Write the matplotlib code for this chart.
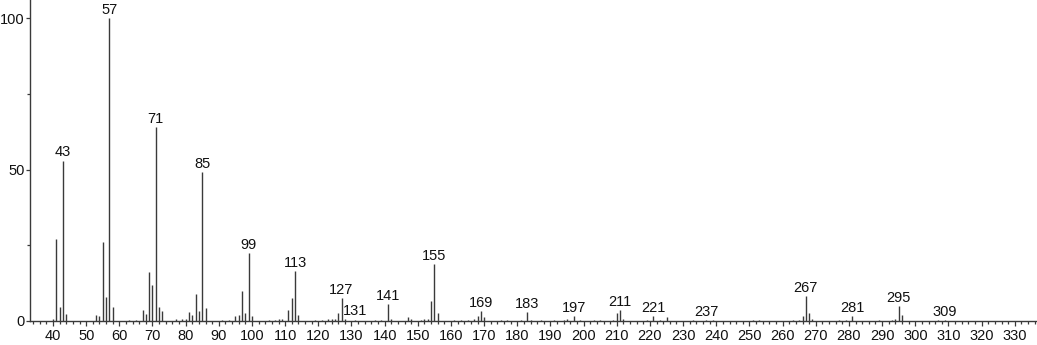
import numpy as np
import matplotlib.pyplot as plt
from matplotlib.ticker import MultipleLocator

plt.rcParams['font.family'] = ['Liberation Sans', 'DejaVu Sans']

# m/z values and relative intensities
mz = [40, 41, 42, 43, 44, 53, 54, 55, 56, 57, 58,
      63, 65, 67, 68, 69, 70, 71, 72, 73, 77, 79, 80,
      81, 82, 83, 84, 85, 86, 91, 93, 95, 96, 97, 98, 99, 100,
      105, 107, 108, 109, 111, 112, 113, 114, 119, 121, 123, 124, 125,
      126, 127, 128, 131, 137, 139, 141, 142, 147, 148, 151, 152, 153,
      154, 155, 156, 161, 163, 165, 167, 168, 169, 170, 175, 177, 181,
      183, 184, 187, 191, 194, 195, 197, 199, 203, 205, 209, 210, 211,
      212, 219, 221, 223, 225, 233, 237, 239, 251, 253, 263, 265, 266,
      267, 268, 269, 277, 279, 281, 289, 293, 294, 295, 296, 307, 309]
intensity = [0.7, 27.0, 4.5, 52.9, 2.3, 1.9, 1.6, 26.0, 7.9, 100.0, 4.5,
             0.3, 0.4, 3.6, 2.3, 16.3, 11.8, 63.9, 4.5, 3.3, 0.7, 0.7, 0.6,
             3.0, 2.0, 8.8, 3.4, 49.1, 4.2, 0.4, 0.4, 1.6, 1.9, 10.0, 2.6, 22.4, 1.8,
             0.3, 0.4, 0.6, 0.5, 3.6, 7.5, 16.5, 2.1, 0.3, 0.4, 0.5, 0.6, 0.8,
             2.6, 7.5, 0.6, 0.4, 0.3, 0.4, 5.5, 0.5, 1.4, 0.6, 0.4, 0.5, 0.6,
             6.6, 18.7, 2.6, 0.3, 0.4, 0.3, 0.6, 1.7, 3.3, 1.2, 0.3, 0.4, 0.3,
             2.9, 0.4, 0.3, 0.3, 0.4, 0.5, 1.6, 0.3, 0.3, 0.4, 0.3, 2.6, 3.5,
             0.5, 0.4, 1.6, 0.4, 1.3, 0.3, 0.3, 0.3, 0.3, 0.3, 0.3, 0.4, 1.7,
             8.1, 2.6, 0.5, 0.3, 0.3, 1.5, 0.3, 0.3, 0.8, 4.8, 2.1, 0.3, 0.3]

labeled = [43, 57, 71, 85, 99, 113, 127, 131, 141, 155, 169, 183,
           197, 211, 221, 237, 267, 281, 295, 309]

col = '#3a3a3a'

fig = plt.figure(figsize=(10.37, 3.45), dpi=100)
ax = fig.add_axes([30 / 1037, 24 / 345, 1 - 30 / 1037, 1 - 24 / 345])

ax.vlines(mz, 0, intensity, colors=col, linewidth=1.0)

lookup = dict(zip(mz, intensity))
for m in labeled:
    ax.annotate(str(m), (m, lookup[m]), xytext=(0, 1.0), textcoords='offset points',
                ha='center', va='bottom', fontsize=10.5, color='#111111')

ax.set_xlim(33.07, 336.7)
ax.set_ylim(0, 106)

ax.xaxis.set_major_locator(MultipleLocator(10))
ax.xaxis.set_minor_locator(MultipleLocator(2))
ax.yaxis.set_major_locator(MultipleLocator(50))
ax.yaxis.set_minor_locator(MultipleLocator(25))

for s in ['top', 'right']:
    ax.spines[s].set_visible(False)
for s in ['left', 'bottom']:
    ax.spines[s].set_color(col)
    ax.spines[s].set_linewidth(1.0)

ax.tick_params(axis='x', which='major', length=3.6, width=0.9, color=col,
               labelsize=10.5, pad=2.5, labelcolor='#111111')
ax.tick_params(axis='y', which='major', length=3.0, width=0.9, color=col,
               labelsize=10.5, pad=0.8, labelcolor='#111111')
ax.tick_params(axis='both', which='minor', length=2.2, width=0.9, color=col)

fig.savefig('out.png', dpi=100)
